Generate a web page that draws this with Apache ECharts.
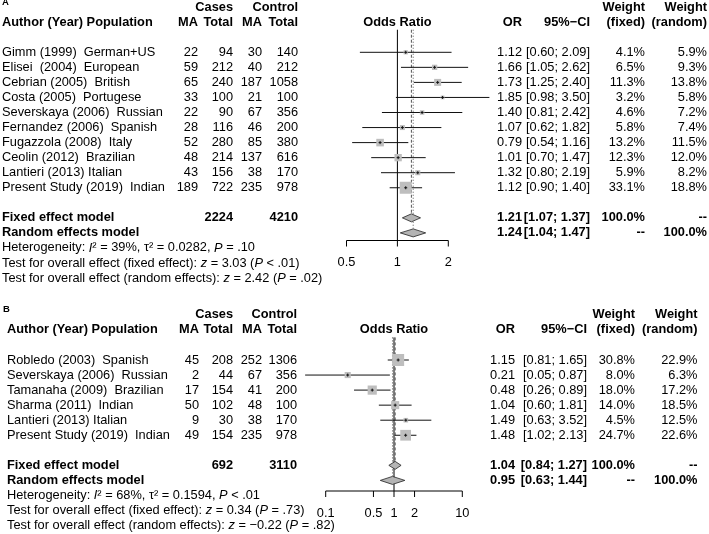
<!DOCTYPE html>
<html><head><meta charset="utf-8">
<script src="https://cdn.jsdelivr.net/npm/echarts@6/dist/echarts.min.js"></script>
<style>html,body{margin:0;padding:0;background:#fff}#c{width:709px;height:534px}</style>
</head><body><div id="c"></div>
<script>
// ---------------- DATA: panel A ----------------
const studyA = ["Gimm (1999)  German+US", "Elisei  (2004)  European", "Cebrian (2005)  British", "Costa (2005)  Portugese",
  "Severskaya (2006)  Russian", "Fernandez (2006)  Spanish", "Fugazzola (2008)  Italy", "Ceolin (2012)  Brazilian",
  "Lantieri (2013) Italian", "Present Study (2019)  Indian"];
const casesMA_A = [22, 59, 65, 33, 22, 28, 52, 48, 43, 189];
const casesTot_A = [94, 212, 240, 100, 90, 116, 280, 214, 156, 722];
const ctrlMA_A = [30, 40, 187, 21, 67, 46, 85, 137, 38, 235];
const ctrlTot_A = [140, 212, 1058, 100, 356, 200, 380, 616, 170, 978];
const orA = [1.12, 1.66, 1.73, 1.85, 1.40, 1.07, 0.79, 1.01, 1.32, 1.12];
const lowA = [0.60, 1.05, 1.25, 0.98, 0.81, 0.62, 0.54, 0.70, 0.80, 0.90];
const highA = [2.09, 2.62, 2.40, 3.50, 2.42, 1.82, 1.16, 1.47, 2.19, 1.40];
const wFixA = [4.1, 6.5, 11.3, 3.2, 4.6, 5.8, 13.2, 12.3, 5.9, 33.1];
const wRanA = [5.9, 9.3, 13.8, 5.8, 7.2, 7.4, 11.5, 12.0, 8.2, 18.8];
const fixedA = [1.21, 1.07, 1.37];
const randomA = [1.24, 1.04, 1.47];
const totalsA = [2224, 4210];
const ticksA = [0.5, 1, 2];
const statsA = [
  "Heterogeneity: {i|I}² = 39%, τ² = 0.0282, {i|P} = .10",
  "Test for overall effect (fixed effect): {i|z} = 3.03 ({i|P} < .01)",
  "Test for overall effect (random effects): {i|z} = 2.42 ({i|P} = .02)"];

// ---------------- DATA: panel B ----------------
const studyB = ["Robledo (2003)  Spanish", "Severskaya (2006)  Russian", "Tamanaha (2009)  Brazilian",
  "Sharma (2011)  Indian", "Lantieri (2013) Italian", "Present Study (2019)  Indian"];
const casesMA_B = [45, 2, 17, 50, 9, 49];
const casesTot_B = [208, 44, 154, 102, 30, 154];
const ctrlMA_B = [252, 67, 41, 48, 38, 235];
const ctrlTot_B = [1306, 356, 200, 100, 170, 978];
const orB = [1.15, 0.21, 0.48, 1.04, 1.49, 1.48];
const lowB = [0.81, 0.05, 0.26, 0.60, 0.63, 1.02];
const highB = [1.65, 0.87, 0.89, 1.81, 3.52, 2.13];
const wFixB = [30.8, 8.0, 18.0, 14.0, 4.5, 24.7];
const wRanB = [22.9, 6.3, 17.2, 18.5, 12.5, 22.6];
const fixedB = [1.04, 0.84, 1.27];
const randomB = [0.95, 0.63, 1.44];
const totalsB = [692, 3110];
const ticksB = [0.1, 0.5, 1, 2, 10];
const statsB = [
  "Heterogeneity: {i|I}² = 68%, τ² = 0.1594, {i|P} < .01",
  "Test for overall effect (fixed effect): {i|z} = 0.34 ({i|P} = .73)",
  "Test for overall effect (random effects): {i|z} = −0.22 ({i|P} = .82)"];

// ---------------- LAYOUT ----------------
const FONT = '"Liberation Sans", Arial, Helvetica, sans-serif';
const FS = 12.8;
const ROW = 15.05;
const LAYOUT = [
  { label: 'A', labelX: 2, top: 0, row0: 52.3, axisY: 240.5, plotLeft: 346.5, plotWidth: 101.8, textX: 2, logBase: 2,
    cols: { ma1: 198, tot1: 233, ma2: 262, tot2: 298, or: 522, ci: 590, wf: 645, wr: 707 } },
  { label: 'B', labelX: 3, top: 300, row0: 360, axisY: 491, plotLeft: 325.7, plotWidth: 136.6, textX: 7, logBase: 10,
    cols: { ma1: 199, tot1: 233, ma2: 262, tot2: 297, or: 515, ci: 587, wf: 635, wr: 697.5 } }
];
const DATA = [
  { study: studyA, cMA: casesMA_A, cTot: casesTot_A, kMA: ctrlMA_A, kTot: ctrlTot_A, or: orA, low: lowA, high: highA,
    wf: wFixA, wr: wRanA, fixed: fixedA, random: randomA, totals: totalsA, ticks: ticksA, stats: statsA },
  { study: studyB, cMA: casesMA_B, cTot: casesTot_B, kMA: ctrlMA_B, kTot: ctrlTot_B, or: orB, low: lowB, high: highB,
    wf: wFixB, wr: wRanB, fixed: fixedB, random: randomB, totals: totalsB, ticks: ticksB, stats: statsB }
];

const f2 = v => v.toFixed(2);
const ci = (l, h) => '[' + f2(l) + '; ' + f2(h) + ']';
const pct = v => v.toFixed(1) + '%';

const grids = [], xAxes = [], yAxes = [], series = [];

LAYOUT.forEach((P, id) => {
  const D = DATA[id];
  const C = P.cols;
  const n = D.study.length;
  const yMin = (P.top - P.row0) / ROW;
  const yMax = (P.axisY - P.row0) / ROW;
  const rF = n + 1, rR = n + 2;
  grids.push({ left: P.plotLeft, top: P.top, width: P.plotWidth, height: P.axisY - P.top });
  xAxes.push({ type: 'log', logBase: P.logBase, min: D.ticks[0], max: D.ticks[D.ticks.length - 1], gridIndex: id, show: false });
  yAxes.push({ type: 'value', inverse: true, min: yMin, max: yMax, gridIndex: id, show: false });

  // ---- table texts ----
  const T = [];
  const add = (x, row, text, o = {}) => T.push(Object.assign({ x, row, text }, o));
  const R = { align: 'right' }, RB = { align: 'right', bold: true }, B = { bold: true };
  add(P.labelX, -3.35, P.label, { bold: true, size: 9.5 });
  add(C.tot1, -3, 'Cases', RB); add(C.tot2, -3, 'Control', RB);
  add(P.textX, -2, 'Author (Year) Population', B);
  add(C.ma1, -2, 'MA', RB); add(C.tot1, -2, 'Total', RB); add(C.ma2, -2, 'MA', RB); add(C.tot2, -2, 'Total', RB);
  add(null, -2, 'Odds Ratio', { bold: true, align: 'center', xv: 1 });
  add(C.or, -2, 'OR', RB); add(C.ci, -2, '95%−CI', RB);
  add(C.wf, -3, 'Weight', RB); add(C.wf, -2, '(fixed)', RB);
  add(C.wr, -3, 'Weight', RB); add(C.wr, -2, '(random)', RB);
  for (let i = 0; i < n; i++) {
    add(P.textX, i, D.study[i]);
    add(C.ma1, i, String(D.cMA[i]), R); add(C.tot1, i, String(D.cTot[i]), R);
    add(C.ma2, i, String(D.kMA[i]), R); add(C.tot2, i, String(D.kTot[i]), R);
    add(C.or, i, f2(D.or[i]), R); add(C.ci, i, ci(D.low[i], D.high[i]), R);
    add(C.wf, i, pct(D.wf[i]), R); add(C.wr, i, pct(D.wr[i]), R);
  }
  add(P.textX, rF, 'Fixed effect model', B);
  add(C.tot1, rF, String(D.totals[0]), RB); add(C.tot2, rF, String(D.totals[1]), RB);
  add(C.or, rF, f2(D.fixed[0]), RB); add(C.ci, rF, ci(D.fixed[1], D.fixed[2]), RB);
  add(C.wf, rF, '100.0%', RB); add(C.wr, rF, '--', RB);
  add(P.textX, rR, 'Random effects model', B);
  add(C.or, rR, f2(D.random[0]), RB); add(C.ci, rR, ci(D.random[1], D.random[2]), RB);
  add(C.wf, rR, '--', RB); add(C.wr, rR, '100.0%', RB);
  D.stats.forEach((s, k) => add(P.textX, n + 3 + k, s, { rich: true }));

  const baseRich = { i: { fontStyle: 'italic', fontSize: FS, fontFamily: FONT, fill: '#000' } };
  series.push({
    type: 'custom', xAxisIndex: id, yAxisIndex: id, silent: true, animation: false, clip: false,
    data: [[1, 0]], encode: { x: 0, y: 1 },
    renderItem: (params, api) => ({
      type: 'group',
      children: T.map(t => {
        const y = api.coord([1, t.row])[1];
        const x = t.xv != null ? api.coord([t.xv, t.row])[0] : t.x;
        const style = {
          text: t.text, fill: '#000', fontFamily: FONT, fontSize: t.size || FS,
          fontWeight: t.bold ? 'bold' : 'normal', align: t.align || 'left', verticalAlign: 'middle'
        };
        if (t.rich) style.rich = baseRich;
        return { type: 'text', x, y, style };
      })
    })
  });

  // ---- reference lines ----
  series.push({
    type: 'custom', xAxisIndex: id, yAxisIndex: id, silent: true, animation: false, clip: false,
    data: [[1, -1.5, yMax, 0], [D.fixed[0], -1.5, rF - 0.3, 1], [D.random[0], -1.5, rR - 0.3, 2]],
    encode: { x: 0, y: 1 },
    renderItem: (params, api) => {
      const a = api.coord([api.value(0), api.value(1)]);
      const b = api.coord([api.value(0), api.value(2)]);
      const kind = api.value(3);
      return {
        type: 'line', shape: { x1: a[0], y1: a[1], x2: b[0], y2: b[1] },
        style: kind === 0 ? { stroke: '#000', lineWidth: 1 }
          : { stroke: '#555', lineWidth: 1, lineDash: kind === 1 ? [3, 2] : [1, 2] }
      };
    }
  });

  // ---- axis ----
  series.push({
    type: 'custom', xAxisIndex: id, yAxisIndex: id, silent: true, animation: false, clip: false,
    data: [[1, yMax]], encode: { x: 0, y: 1 },
    renderItem: (params, api) => {
      const ch = [];
      const p0 = api.coord([D.ticks[0], yMax]);
      const p1 = api.coord([D.ticks[D.ticks.length - 1], yMax]);
      ch.push({ type: 'line', shape: { x1: p0[0], y1: p0[1], x2: p1[0], y2: p1[1] }, style: { stroke: '#000', lineWidth: 1 } });
      D.ticks.forEach(t => {
        const p = api.coord([t, yMax]);
        ch.push({ type: 'line', shape: { x1: p[0], y1: p[1], x2: p[0], y2: p[1] + 6 }, style: { stroke: '#000', lineWidth: 1 } });
        ch.push({ type: 'text', x: p[0], y: p[1] + 22,
          style: { text: String(t), fill: '#000', fontFamily: FONT, fontSize: FS, align: 'center', verticalAlign: 'middle' } });
      });
      return { type: 'group', children: ch };
    }
  });

  // ---- study CIs and squares ----
  const maxW = Math.max(...D.wf);
  series.push({
    type: 'custom', xAxisIndex: id, yAxisIndex: id, silent: true, animation: false, clip: false,
    data: D.or.map((v, i) => [v, i, D.low[i], D.high[i], D.wf[i]]),
    encode: { x: 0, y: 1 },
    renderItem: (params, api) => {
      const row = api.value(1);
      const c = api.coord([api.value(0), row]);
      const lo = api.coord([api.value(2), row]);
      const hi = api.coord([api.value(3), row]);
      const s = 12 * Math.sqrt(api.value(4) / maxW);
      return {
        type: 'group', children: [
          { type: 'line', shape: { x1: lo[0], y1: lo[1], x2: hi[0], y2: hi[1] }, style: { stroke: '#111', lineWidth: 1 } },
          { type: 'rect', shape: { x: c[0] - s / 2, y: c[1] - s / 2, width: s, height: s }, style: { fill: '#bebebe' } },
          { type: 'line', shape: { x1: c[0] - 1.5, y1: c[1], x2: c[0] + 1.5, y2: c[1] }, style: { stroke: '#111', lineWidth: 1 } },
          { type: 'line', shape: { x1: c[0], y1: c[1] - 1.5, x2: c[0], y2: c[1] + 1.5 }, style: { stroke: '#111', lineWidth: 1 } }
        ]
      };
    }
  });

  // ---- diamonds ----
  series.push({
    type: 'custom', xAxisIndex: id, yAxisIndex: id, silent: true, animation: false, clip: false,
    data: [[D.fixed[0], rF, D.fixed[1], D.fixed[2]], [D.random[0], rR, D.random[1], D.random[2]]],
    encode: { x: 0, y: 1 },
    renderItem: (params, api) => {
      const row = api.value(1);
      const c = api.coord([api.value(0), row]);
      const lo = api.coord([api.value(2), row]);
      const hi = api.coord([api.value(3), row]);
      const h = 4;
      return {
        type: 'polygon',
        shape: { points: [[lo[0], c[1]], [c[0], c[1] - h], [hi[0], c[1]], [c[0], c[1] + h]] },
        style: { fill: '#b4b4b4', stroke: '#222', lineWidth: 0.8 }
      };
    }
  });
});

const chart = echarts.init(document.getElementById('c'), null, { renderer: 'canvas' });
chart.setOption({
  animation: false,
  backgroundColor: '#fff',
  textStyle: { fontFamily: FONT },
  grid: grids, xAxis: xAxes, yAxis: yAxes, series
});
</script>
</body></html>
